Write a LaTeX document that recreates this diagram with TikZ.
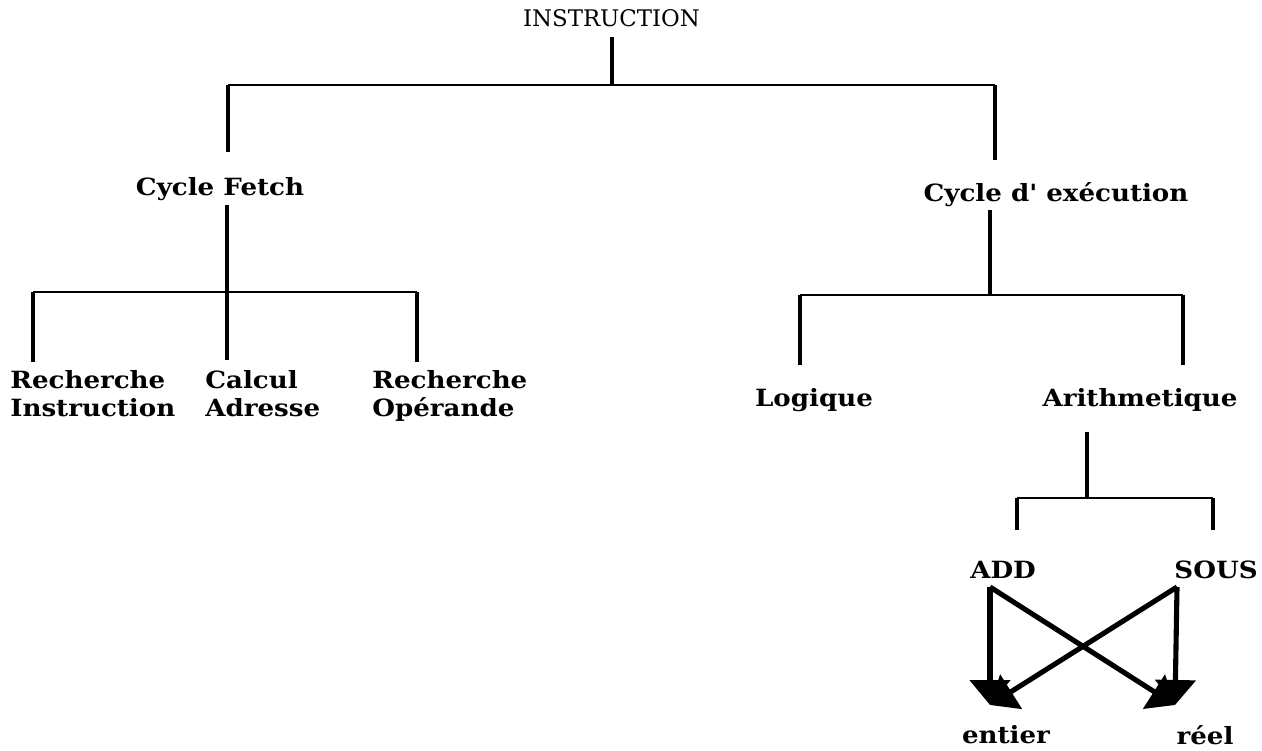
\documentclass[tikz,border=0pt]{standalone}
\usepackage{fontspec}
\setmainfont{DejaVu Serif}
\newfontfamily\widebf[FakeStretch=1.1]{DejaVu Serif Bold}
\usetikzlibrary{arrows.meta,positioning}

\begin{document}
\begin{tikzpicture}[
    lbl/.style={font=\widebf\fontsize{13.5}{16}\selectfont, inner sep=0pt},
    leaf/.style={lbl, align=left, anchor=north west},
    stem/.style={line width=2.8pt},
    bar/.style={line width=1.3pt},
    flow/.style={line width=2.9pt, -{Triangle[width=0.8cm,length=0.5cm]}}
]
\useasboundingbox (0,0) rectangle (25.24,-15.02);

% nodes
\node[font=\fontsize{13}{15}\selectfont, inner sep=0pt] (instr) at (12.23,-0.36) {INSTRUCTION};
\node[lbl] (fetch) at (4.4,-3.78) {Cycle Fetch};
\node[lbl] (exec) at (21.12,-3.9) {Cycle d' exécution};

\node[leaf] (rinstr) at (0.2,-7.4) {Recherche\\Instruction};
\node[leaf] (calc) at (4.1,-7.4) {Calcul\\Adresse};
\node[leaf] (rop) at (7.44,-7.4) {Recherche\\Opérande};

\node[lbl] (logi) at (16.28,-8.0) {Logique};
\node[lbl] (arith) at (22.8,-8.0) {Arithmetique};

\node[lbl] (add) at (20.06,-11.4) {ADD};
\node[lbl] (sous) at (24.32,-11.4) {SOUS};

\node[lbl] (ent) at (20.12,-14.7) {entier};
\node[lbl] (reel) at (24.1,-14.7) {réel};

% level 1
\coordinate (b0l) at (4.56,-1.70);
\coordinate (b0r) at (19.9,-1.70);
\coordinate (b0m) at (12.24,-1.70);
\draw[stem] (12.24,-0.74) -- (b0m);
\draw[bar] (b0l) -- (b0r);
\draw[stem] (b0l) -- ++(0,-1.34);
\draw[stem] (b0r) -- ++(0,-1.5);

% cycle fetch
\coordinate (b1l) at (0.66,-5.84);
\coordinate (b1r) at (8.34,-5.84);
\draw[stem] (4.54,-4.1) -- (4.54,-7.2);
\draw[bar] (b1l) -- (b1r);
\draw[stem] (b1l) -- ++(0,-1.4);
\draw[stem] (b1r) -- ++(0,-1.4);

% cycle d'execution
\coordinate (b2l) at (16.0,-5.9);
\coordinate (b2r) at (23.66,-5.9);
\draw[stem] (19.8,-4.2) -- (19.8,-5.9);
\draw[bar] (b2l) -- (b2r);
\draw[stem] (b2l) -- ++(0,-1.4);
\draw[stem] (b2r) -- ++(0,-1.4);

% arithmetique
\coordinate (b3l) at (20.34,-9.96);
\coordinate (b3r) at (24.26,-9.96);
\draw[stem] (21.74,-8.64) -- (21.74,-9.96);
\draw[bar] (b3l) -- (b3r);
\draw[stem] (b3l) -- ++(0,-0.64);
\draw[stem] (b3r) -- ++(0,-0.64);

% add / sous
\coordinate (ta) at (19.8,-11.74);
\coordinate (ts) at (23.54,-11.74);
\coordinate (he) at (19.8,-14.1);
\coordinate (hr) at (23.5,-14.1);
\draw[flow] (ta) -- (he);
\draw[flow] (ta) -- (hr);
\draw[flow] (ts) -- (hr);
\draw[flow] (ts) -- (he);

\end{tikzpicture}
\end{document}
